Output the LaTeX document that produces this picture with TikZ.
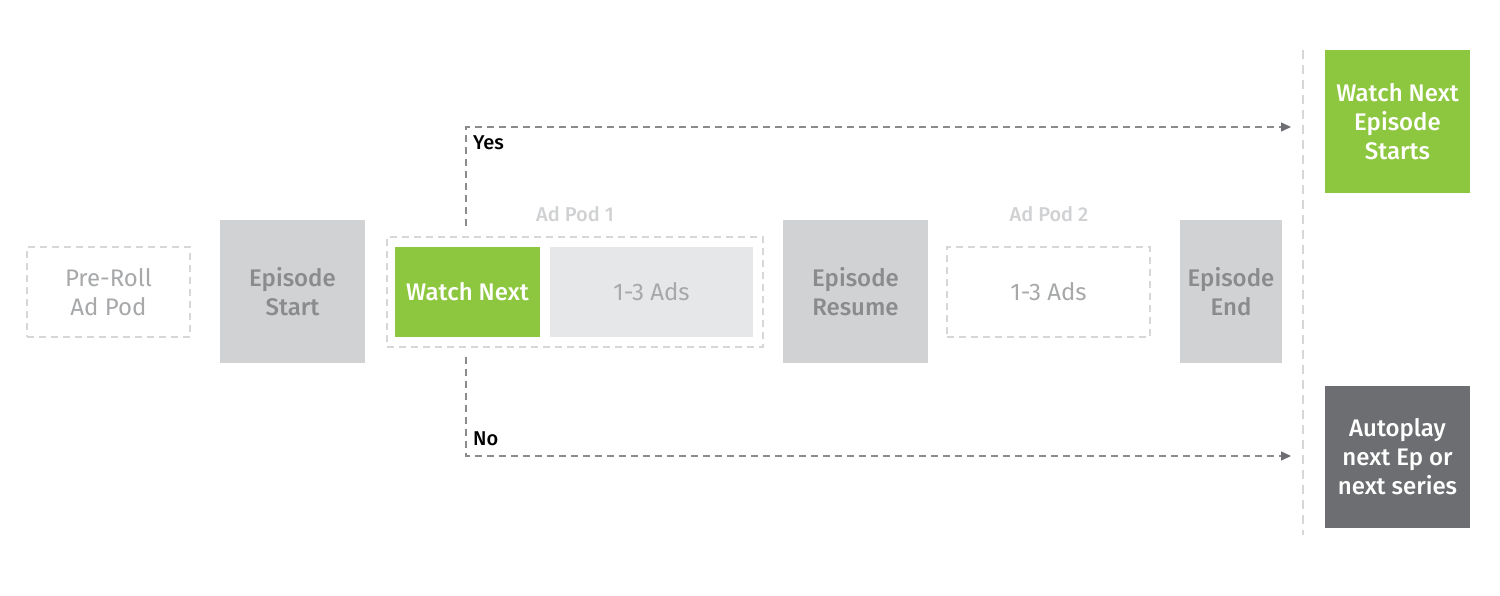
\documentclass[tikz,border=0pt]{standalone}
\usepackage{fontspec}
\setmainfont{Fira Sans}[BoldFont={Fira Sans Medium}]
\usetikzlibrary{arrows.meta}
\definecolor{green}{HTML}{8DC63F}
\definecolor{boxgray}{HTML}{D1D2D4}
\definecolor{lightbox}{HTML}{E6E7E8}
\definecolor{txtgray}{HTML}{8A8B8D}
\definecolor{lighttxt}{HTML}{A7A8AA}
\definecolor{labgray}{HTML}{D0D1D3}
\definecolor{darkbox}{HTML}{6D6E71}
\definecolor{dashgray}{HTML}{D6D7D9}
\definecolor{arrowgray}{HTML}{8A8B8D}
\tikzset{
  base/.style={inner sep=0pt, align=center, font=\fontsize{24}{29}\selectfont},
  epbox/.style={base, fill=boxgray, text=txtgray, font=\fontsize{24}{29}\selectfont\bfseries},
  dashbox/.style={base, draw=dashgray, line width=1.2pt, dash pattern=on 7pt off 5pt, text=lighttxt},
  greenbox/.style={base, fill=green, text=white, font=\fontsize{24}{29}\selectfont\bfseries},
  adsbox/.style={base, fill=lightbox, text=lighttxt},
  darkboxs/.style={base, fill=darkbox, text=white, font=\fontsize{24}{29}\selectfont\bfseries},
  podlabel/.style={inner sep=0pt, text=labgray, font=\fontsize{20}{22}\selectfont\bfseries},
  yn/.style={inner sep=0pt, anchor=west, text=black, font=\fontsize{20}{22}\selectfont\bfseries},
  flow/.style={draw=arrowgray, line width=1.3pt, dash pattern=on 7pt off 5pt,
    -{Triangle[length=10pt,width=9pt,fill=darkbox,color=darkbox]}},
}
\begin{document}
\begin{tikzpicture}[x=1pt,y=-1pt]
\useasboundingbox (0,0) rectangle (1500,595);
% separator
\draw[dashgray, line width=1.5pt, dash pattern=on 9pt off 6pt] (1303,50) -- (1303,535);
% row
\node[dashbox, minimum width=163pt, minimum height=90pt] (pre) at (108.5,292) {Pre-Roll\\Ad Pod};
\node[epbox, minimum width=145pt, minimum height=143pt] (start) at (292.5,291.5) {Episode\\Start};
\node[dashbox, minimum width=376pt, minimum height=110pt] (pod1) at (575,292) {};
\node[greenbox, minimum width=145pt, minimum height=90pt] (wn) at (467.5,292) {Watch Next};
\node[adsbox, minimum width=203pt, minimum height=90pt] (ads1) at (651.5,292) {1-3 Ads};
\node[podlabel] (pod1lab) at (575,214) {Ad Pod 1};
\node[epbox, minimum width=145pt, minimum height=143pt] (resume) at (855.5,291.5) {Episode\\Resume};
\node[dashbox, minimum width=203pt, minimum height=90pt] (pod2) at (1048.5,292) {1-3 Ads};
\node[podlabel] (pod2lab) at (1049,214) {Ad Pod 2};
\node[epbox, minimum width=102pt, minimum height=143pt] (end) at (1231,291.5) {Episode\\End};
% outcomes
\node[greenbox, minimum width=145pt, minimum height=143pt] (wnes) at (1397.5,121.5) {Watch Next\\Episode\\Starts};
\node[darkboxs, minimum width=145pt, minimum height=142pt] (auto) at (1397.5,457) {Autoplay\\next Ep or\\next series};
% connectors
\coordinate (ys) at (466,226);
\coordinate (ye) at (1291,127);
\coordinate (ns) at (466,357);
\coordinate (ne) at (1291,456);
\draw[flow] (ys) |- (ye);
\draw[flow] (ns) |- (ne);
\node[yn] (yes) at (473,143) {Yes};
\node[yn] (no) at (473,439) {No};
\end{tikzpicture}
\end{document}
